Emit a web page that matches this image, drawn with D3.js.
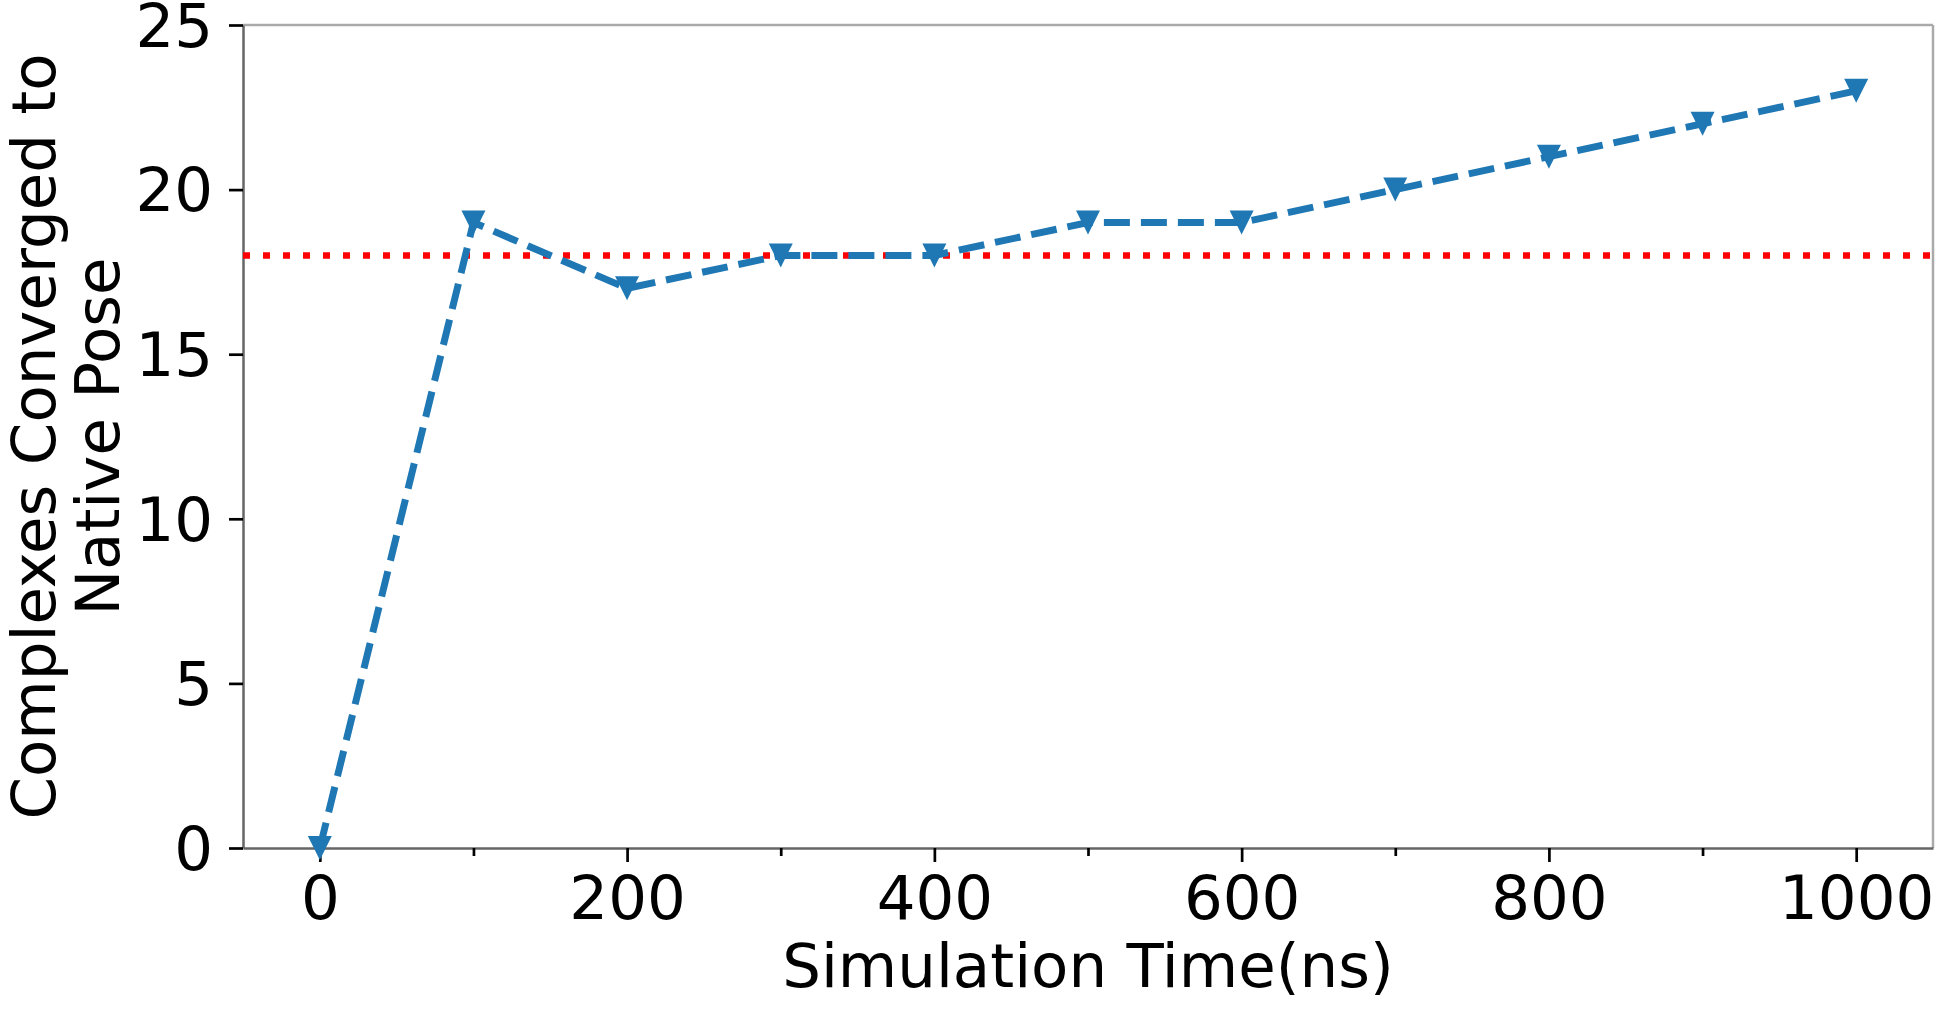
<!DOCTYPE html>
<html><head><meta charset="utf-8">
<script src="https://cdn.jsdelivr.net/npm/d3@7"></script>
<style>html,body{margin:0;padding:0;background:#fff;}</style>
</head><body>
<svg id="c" width="1947" height="1017"></svg>
<script>
const timeNs = [0,100,200,300,400,500,600,700,800,900,1000];
const converged = [0,19,17,18,18,19,19,20,21,22,23];
const baselineValue = 18;
const xMajorTicks = [0,200,400,600,800,1000];
const xMinorTicks = [100,300,500,700,900];
const yTicks = [0,5,10,15,20,25];

const svg = d3.select("#c");
const L=243, R=1933, T=25, B=848;
const x = d3.scaleLinear().domain([-50,1050]).range([L,R]);
const y = d3.scaleLinear().domain([0,25]).range([B,T]);
const font = "DejaVu Sans";

// spines
svg.append("line").attr("x1",L).attr("x2",R).attr("y1",T).attr("y2",T).attr("stroke","#aaa").attr("stroke-width",2.5);
svg.append("line").attr("x1",R).attr("x2",R).attr("y1",T).attr("y2",B).attr("stroke","#aaa").attr("stroke-width",2.5);

// axes
const xAxis = svg.append("g").attr("transform",`translate(0,${B})`)
  .call(d3.axisBottom(x).tickValues(xMajorTicks).tickSize(14).tickSizeOuter(0).tickPadding(14).tickFormat(d3.format("d")));
const xMinor = svg.append("g").attr("transform",`translate(0,${B})`)
  .call(d3.axisBottom(x).tickValues(xMinorTicks).tickSize(8).tickSizeOuter(0).tickFormat(""));
const yAxis = svg.append("g").attr("transform",`translate(${L},0)`)
  .call(d3.axisLeft(y).tickValues(yTicks).tickSize(14).tickSizeOuter(0).tickPadding(16).tickFormat(d3.format("d")));
[xAxis,xMinor,yAxis].forEach(g=>{
  g.select(".domain").attr("stroke","#666").attr("stroke-width",2.5);
  g.selectAll(".tick line").attr("stroke","#000").attr("stroke-width",2.7);
  g.selectAll(".tick text").attr("font-family",font).attr("font-size",61).attr("fill","#000");
});
xMinor.select(".domain").remove();
xAxis.selectAll(".tick text").attr("dy","0.71em");
yAxis.selectAll(".tick text").attr("dy","0.35em");

// reference line
svg.append("line").attr("x1",L).attr("x2",R).attr("y1",y(baselineValue)).attr("y2",y(baselineValue))
  .attr("stroke","#ff0000").attr("stroke-width",6.5).attr("stroke-dasharray","7,13");

// data line
const line = d3.line().x((d,i)=>x(timeNs[i])).y(d=>y(d));
svg.append("path").datum(converged).attr("d",line).attr("fill","none")
  .attr("stroke","#1f77b4").attr("stroke-width",7).attr("stroke-dasharray","26,11");

// markers
const s=12;
svg.selectAll(".m").data(converged).enter().append("path")
  .attr("d",(d,i)=>{const cx=x(timeNs[i]), cy=y(d); return `M${cx-s},${cy-s}L${cx+s},${cy-s}L${cx},${cy+s}Z`;})
  .attr("fill","#1f77b4");

// labels
svg.append("text").attr("x",(L+R)/2).attr("y",987).attr("text-anchor","middle")
  .attr("font-family",font).attr("font-size",61).text("Simulation Time(ns)");
const yl = svg.append("text").attr("transform",`translate(0,${(T+B)/2}) rotate(-90)`)
  .attr("text-anchor","middle").attr("font-family",font).attr("font-size",61);
yl.append("tspan").attr("x",0).attr("y",55).text("Complexes Converged to");
yl.append("tspan").attr("x",0).attr("y",119).text("Native Pose");
</script>
</body></html>
